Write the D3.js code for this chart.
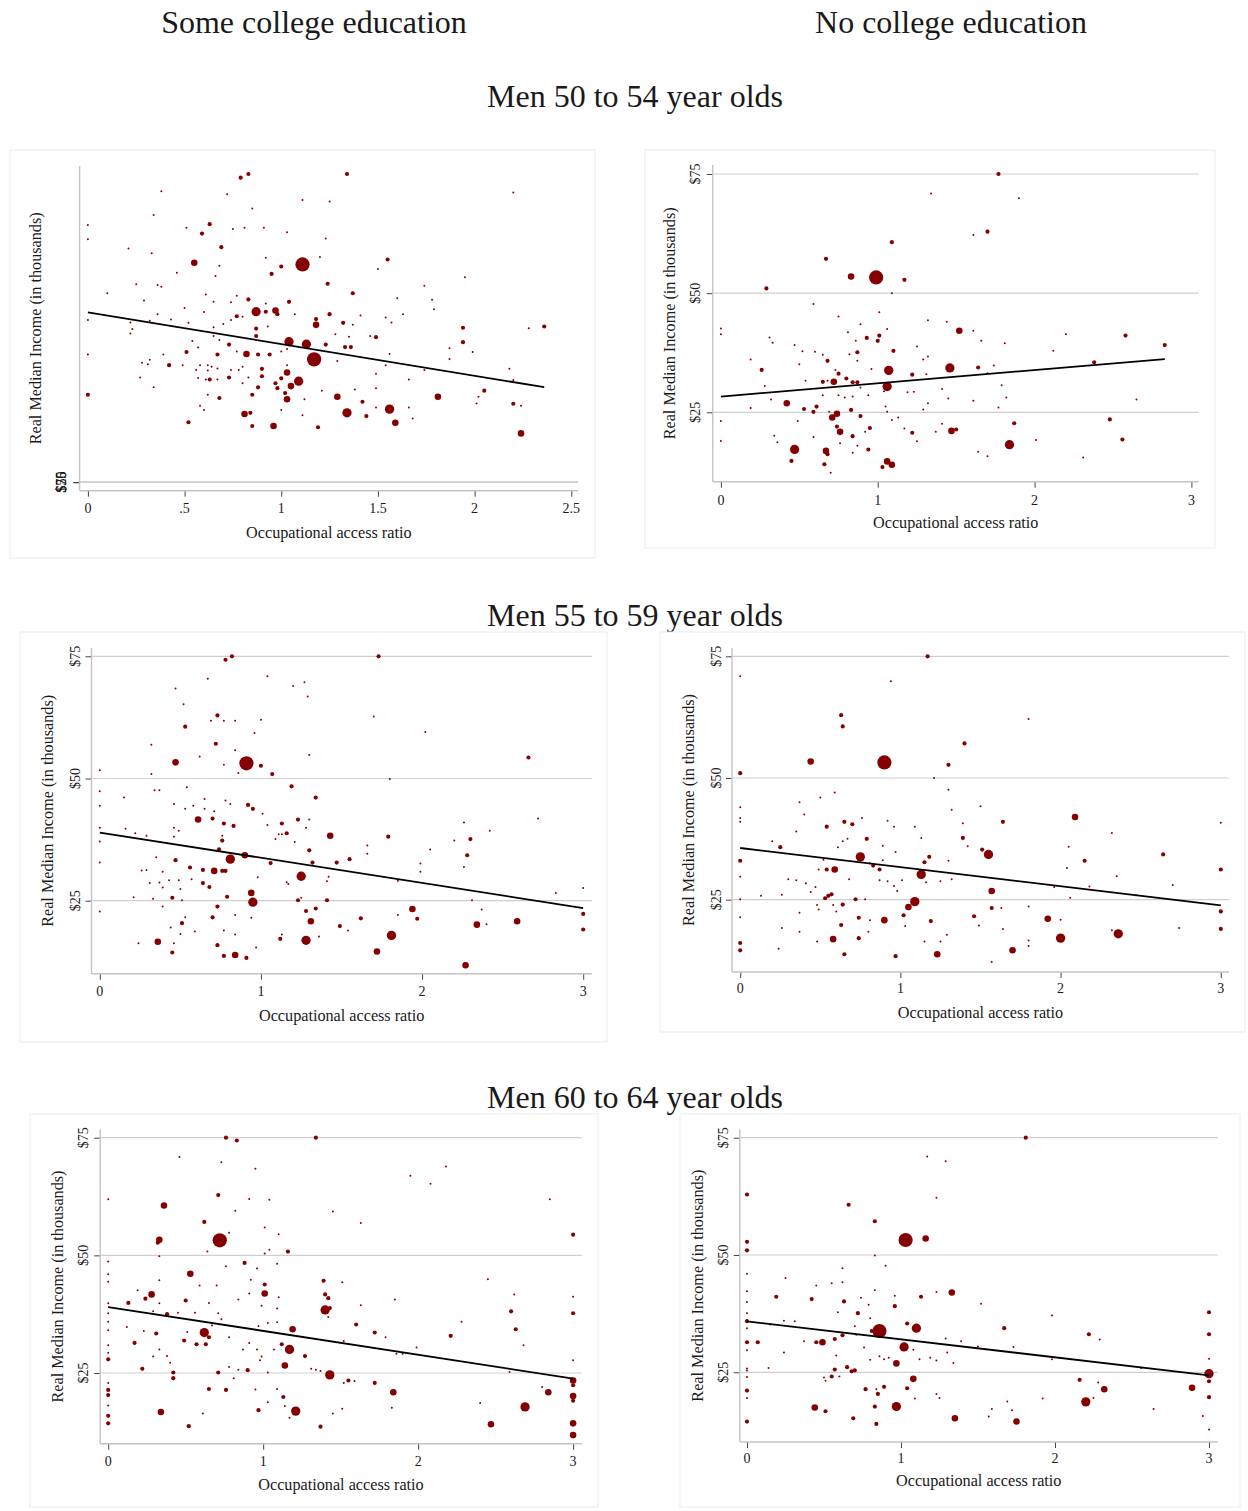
<!DOCTYPE html>
<html>
<head>
<meta charset="utf-8">
<script src="https://cdn.jsdelivr.net/npm/d3@7"></script>
<style>
  html, body { margin: 0; padding: 0; background: #ffffff; }
  svg { display: block; }
  text { font-family: "Liberation Serif", "Times New Roman", serif; fill: #1a1a1a; }
</style>
</head>
<body>
<svg id="chart" width="1248" height="1511"></svg>
<script>
// Column and row headings
const columnHeaders = ["Some college education", "No college education"];
const rowHeaders = ["Men 50 to 54 year olds", "Men 55 to 59 year olds", "Men 60 to 64 year olds"];

// Axis text
const xAxisTitle = "Occupational access ratio";
const yAxisTitle = "Real Median Income (in thousands)";
const yTickValues = [25, 50, 75];
const yTickLabels = ["$25", "$50", "$75"];
const xTicksHalf = [0, 0.5, 1, 1.5, 2, 2.5];
const xTicksHalfLabels = ["0", ".5", "1", "1.5", "2", "2.5"];
const xTicksWhole = [0, 1, 2, 3];
const xTicksWholeLabels = ["0", "1", "2", "3"];

// Occupations: [access ratio, median income ($000), weight]
const men50SomeCollege = [
[0.79,74.1,6],[0.83,75.0,6],[1.34,75.0,6],[0.38,70.8,1],[0.72,70.1,1],[1.11,68.7,1],[2.20,70.5,1],[0.85,66.6,1],[1.25,68.3,1],[0.34,65.0,1],
[0,62.6,1],[0,59.1,1],[0.51,61.9,1],[0.63,62.8,6],[0.75,61.6,1],[0.81,61.9,1],[0.91,61.9,1],[1.03,60.8,1],[0.59,60.5,6],[1.23,59.3,1],
[0.21,56.9,1],[0.69,57.2,6],[0.33,55.7,1],[0.55,53.4,15],[0.92,54.6,1],[1.00,52.5,6],[1.11,53.0,70],[1.20,54.8,1],[1.55,54.2,6],[1.50,51.9,1],
[0.95,50.7,6],[0.46,51.0,1],[0.66,50.2,1],[0.68,52.7,1],[0.25,48.2,1],[0.36,48.0,1],[0.38,47.6,1],[1.24,48.3,6],[1.74,47.8,1],[1.95,49.9,1],
[0.10,46.0,1],[0.61,45.7,1],[0.77,45.4,1],[0.83,44.5,6],[1.04,43.9,6],[1.37,46.0,6],[1.60,44.8,1],[1.78,44.4,1],[1.79,42.1,1],
[0.29,44.2,1],[0.65,43.9,1],[0.74,43.8,1],[0.50,42.4,1],[0.92,43.5,1],
[0.87,41.5,30],[0.92,41.5,6],[0.97,41.8,15],[0.98,40.9,6],[1.25,40.9,6],[0.77,40.4,6],[0.80,40.3,1],[1.07,40.9,1],[1.41,40.6,1],[1.54,40.1,1],[1.63,40.9,1],[0.36,40.9,1],[0.60,41.4,1],
[0,39.5,1],[0.22,38.9,1],[0.32,39.3,1],[0.43,39.6,1],[0.52,38.8,1],[0.70,38.5,1],[0.74,39.5,1],[0.93,37.9,1],
[0.87,37.4,6],[1.18,39.7,6],[1.18,38.3,15],[1.32,38.8,6],[1.37,38.3,1],[1.49,35.3,6],[1.94,37.6,6],[2.36,37.9,6],[2.28,37.5,1],
[0.87,35.6,6],[0.65,37.7,1],[0.65,35.6,1],[0.22,36.2,1],[0.23,37.3,1],[1.28,36.0,1],[1.35,35.4,1],[1.46,35.6,1],[1.57,38.9,1],
[1.04,34.2,30],[1.13,33.6,30],[1.03,32.4,1],[1.23,33.5,6],[1.33,32.9,6],[1.36,32.9,6],[1.94,34.1,6],[1.87,32.6,1],[1.99,31.7,1],
[0.73,33.5,6],[0.57,32.8,1],[0.54,34.4,1],[0.68,34.6,1],
[0.51,31.7,6],[0.39,31.1,1],[0,31.1,1],[0.67,31.1,6],[0.77,31.8,1],[0.82,31.2,15],[0.88,31.1,6],[0.94,31.1,6],[1.00,31.8,1],
[1.17,29.9,70],[1.29,29.5,1],[1.56,31.2,1],[1.54,28.5,1],
[0.28,29.1,1],[0.32,29.8,1],[0.31,28.7,1],[0.42,28.5,6],[0.49,28.5,1],[0.58,28.5,1],[0.62,28.5,1],[0.64,28.1,1],[0.67,27.7,1],[0.56,27.3,1],[0.62,27.2,1],[0.74,27.3,1],[0.78,27.3,1],[0.80,28.1,1],[0.90,27.6,6],[1.03,28.5,1],
[1.03,26.7,15],[0.90,25.8,6],[0.73,25.5,6],[0.63,25.0,6],[0.27,25.5,1],[0.57,25.4,1],[0.61,25.0,1],[0.67,25.0,1],[0.83,25.5,1],[1.00,25.3,6],[0.97,24.1,6],[1.09,24.6,30],[1.74,27.3,1],[1.87,30.0,1],[2.18,27.6,1],[2.20,24.9,1],[1.49,26.4,1],[1.66,25.0,1],
[0.98,22.9,6],[1.05,23.4,15],[0.88,23.1,6],[0.34,23.1,1],[0.80,24.1,1],[1.49,22.9,1],[1.38,22.6,1],[1.21,22.3,1],
[0,21.3,6],[0.68,20.5,6],[0.85,21.3,6],[1.02,21.7,6],[1.03,20.2,15],[0.62,21.3,1],[1.29,20.8,15],[1.42,19.6,6],[1.81,20.8,15],[2.05,22.3,6],[2.02,20.8,1],[2.01,19.2,1],[1.12,20.2,1],
[2.20,19.1,6],[2.24,18.6,1],[0.58,18.6,1],[0.60,17.6,1],[1.00,17.6,1],[1.49,18.2,1],[1.66,18.2,1],
[0.81,16.6,15],[0.84,16.9,6],[1.11,16.3,1],[1.34,16.9,30],[1.44,16.1,6],[1.56,17.8,30],[1.68,15.5,1],
[0.52,14.6,6],[0.85,13.7,6],[0.96,13.7,15],[1.19,13.4,6],[1.59,14.5,15],[2.24,11.9,15]
];

const men50NoCollege = [
[1.77,75.0,6],[1.34,70.9,1],[1.90,69.9,1],[1.70,62.9,6],[1.61,62.2,1],[1.09,60.7,6],[0.67,57.2,6],[0.83,53.5,15],[0.99,53.3,70],[1.17,52.8,6],[0.29,51.0,6],[1.09,50.0,1],
[0.59,47.7,1],[1.01,46.0,1],[0.75,45.1,1],[0.89,43.5,1],[1.32,44.3,1],[1.44,44.0,1],[0,42.6,1],[0,41.4,1],[0.81,41.8,1],[1.06,42.5,1],[1.52,42.1,15],[1.61,42.1,1],[2.20,41.4,1],[2.58,41.1,6],[2.83,39.1,6],
[0.93,40.6,6],[1.01,41.1,6],[1.00,40.0,6],[0.31,40.7,1],[0.33,39.6,1],[0.86,40.0,1],[1.66,40.0,1],[1.81,39.5,1],[0.47,39.1,1],[0.52,37.8,1],[0.60,37.7,1],[0.65,37.1,1],[0.87,37.6,6],[0.82,37.2,1],[1.10,37.9,6],[1.25,38.8,1],[2.12,37.9,1],
[0.68,35.8,6],[0.87,35.8,1],[0.19,36.1,1],[0.50,35.1,1],[1.29,36.1,1],[1.32,36.7,1],[2.38,35.5,6],[1.74,34.8,1],
[0.26,33.9,6],[1.07,33.8,30],[1.46,34.3,30],[1.64,34.4,6],[0.96,34.1,1],[0.73,33.9,1],[0.54,31.6,1],[1.22,32.9,6],[1.31,33.0,1],[1.70,33.2,1],[0.75,33.1,6],[0.80,32.1,6],[0.65,31.4,6],[0.72,31.4,15],[0.84,31.3,6],[0.87,31.3,6],[0.68,31.6,1],[0.89,30.2,1],[1.06,30.4,30],[1.04,29.4,1],[0.94,28.6,1],[1.19,29.2,1],[1.23,29.3,1],[1.41,29.9,1],[1.79,30.7,1],[0.28,30.5,1],
[0.65,28.6,1],[0.75,28.6,1],[0.79,28.1,1],[0.84,28.3,1],[0.32,27.7,1],[1.45,27.9,1],[1.61,27.4,1],[1.82,28.1,1],[2.65,27.7,1],
[0.42,26.9,15],[0.61,26.2,6],[0.53,25.7,6],[0.59,25.1,6],[0.19,25.9,1],[1.05,26.2,1],[1.32,26.9,1],[1.29,25.6,1],[1.77,26.0,1],[1.06,25.1,1],
[0.74,24.7,15],[0.71,23.9,15],[0.83,25.5,6],[0.89,24.2,6],[0.69,25.1,1],[0.49,23.2,1],[1.09,23.4,1],[1.13,23.9,1],[1.41,22.6,1],[2.48,23.5,6],[1.87,22.7,6],[0,23.2,1],
[0.74,22.0,6],[0.76,20.9,15],[0.95,21.7,6],[0.92,20.9,1],[1.22,20.7,6],[1.17,21.6,1],[1.37,20.9,1],[1.47,21.1,15],[1.50,21.4,6],
[0.34,20.1,1],[0.36,18.7,1],[0.59,19.8,1],[0.84,20.0,6],[0,19.0,1],[2.01,19.2,1],[2.56,19.3,6],
[0.47,17.2,30],[0.67,16.9,15],[0.68,16.2,6],[0.76,18.5,1],[0.87,18.0,1],[0.94,17.2,6],[1.25,18.9,1],[1.84,18.2,30],[1.64,16.7,1],[1.70,15.8,1],[2.31,15.5,1],
[0.45,14.8,6],[0.66,14.1,6],[1.06,14.7,15],[1.09,14.0,15],[1.03,13.5,6],[0.70,12.3,1],[0.84,16.5,1]
];

const men55SomeCollege = [
[0.78,74.3,6],[0.82,75.0,6],[1.73,75.0,6],[0.67,70.4,1],[1.04,70.9,1],[1.20,68.9,1],[1.27,69.7,1],[1.29,66.8,1],[0.47,68.4,1],[0.52,65.2,1],
[0.73,62.9,6],[0.69,61.8,1],[0.77,61.8,1],[0.84,61.8,1],[1.00,62.0,1],[1.70,62.7,1],[0.53,60.6,6],[0.96,59.3,1],[2.02,59.5,1],
[0.72,57.1,6],[0.32,56.9,1],[0.84,55.8,1],[0.62,54.5,1],[1.30,54.8,1],[2.66,54.3,6],[0.47,53.3,15],[0.91,53.1,70],[1.00,52.6,6],[0.77,52.8,1],[0.86,51.1,1],[1.07,50.9,6],[0.32,50.9,1],
[0,51.7,1],[0,47.4,1],[1.19,48.4,6],[0.54,48.2,1],[0.34,47.6,1],[0.37,47.6,1],[1.80,49.9,1],[1.34,46.1,6],[0.15,46.1,1],[0.65,45.8,1],
[0,44.4,1],[0.46,44.8,1],[0.58,44.4,1],[0.53,43.8,1],[0.78,45.5,1],[0.81,44.8,1],[0.92,44.6,6],[0.95,43.8,6],[0.61,41.6,15],[0.70,41.8,6],[0.65,43.8,1],[0.71,43.3,1],[1.01,42.8,1],[1.23,41.6,6],[1.13,40.8,6],[1.30,41.6,1],[0.77,40.8,6],[0.83,40.3,6],[1.04,40.5,1],[1.11,38.6,1],[1.16,38.8,6],[1.43,38.3,15],[1.79,38.1,6],[2.72,41.8,1],[2.42,39.3,1],[2.26,41.0,1],[2.30,37.6,6],[2.20,37.3,1],
[0,39.9,1],[0,37.1,1],[0.16,39.7,1],[0.22,38.8,1],[0.29,38.3,1],[0.46,39.9,1],[0.46,38.1,1],[0.49,39.3,1],[0.76,37.3,6],[0.76,38.3,1],[1.09,37.6,1],[1.13,38.6,1],[1.21,37.0,1],[1.28,39.9,1],
[0.74,35.5,6],[1.30,35.3,6],[0.90,34.3,15],[0.81,33.5,30],[0.93,34.1,1],[1.66,36.3,1],[1.66,34.6,1],[2.05,35.5,1],[2.28,34.3,6],
[0,32.8,1],[0.35,33.9,1],[0.47,33.3,6],[0.56,31.8,6],[0.64,31.3,6],[0.71,31.1,15],[0.76,31.1,6],[0.78,31.1,6],[0.26,31.2,1],[0.29,31.3,1],[0.39,30.9,1],[1.06,32.7,6],[1.32,32.8,6],[1.47,32.8,6],[1.55,33.5,6],[1.99,32.6,1],[1.99,30.9,1],[2.26,31.9,1],
[1.25,30.0,30],[0.98,29.8,1],[1.16,28.8,1],[1.17,28.4,1],[1.42,29.9,1],[1.41,29.0,1],[1.85,29.1,1],
[0.31,28.6,1],[0.37,28.7,1],[0.39,27.7,1],[0.43,29.2,1],[0.49,29.2,1],[0.57,29.4,1],[0.64,28.6,6],[0.68,27.8,6],[0.50,27.4,1],[0.94,26.6,15],[0.79,25.8,6],[0.45,25.6,6],[0.21,25.7,1],[0.33,25.4,1],[0.51,25.1,1],[1.23,25.1,6],[1.25,25.6,1],[1.41,25.1,6],[2.31,25.1,1],[2.83,26.6,1],[3.00,27.6,1],
[0.95,24.7,30],[0.73,23.8,6],[0.39,23.8,1],[1.28,22.9,6],[1.34,23.4,6],[0,22.8,1],[1.94,23.3,15],[2.37,23.2,1],[1.85,22.1,1],
[0.70,21.6,6],[0.84,22.1,1],[0.94,21.5,1],[1.31,20.8,15],[1.62,21.4,6],[1.97,21.3,6],[3.00,22.3,6],[3.00,19.1,6],[0.51,20.4,6],[0.53,21.6,1],[0.44,19.5,1],[0.50,18.2,1],[0.59,18.7,1],[0.77,18.9,1],[0.84,18.1,1],[1.49,19.8,6],[1.54,18.9,1],[2.34,20.1,15],[2.40,20.2,1],[2.59,20.8,15],
[0.36,16.6,15],[0.24,16.3,1],[0.46,16.3,1],[1.12,17.2,6],[1.13,18.1,1],[1.28,16.9,30],[1.36,17.7,1],[1.81,17.9,30],[0.73,15.9,6],[0.45,14.4,6],[0.77,13.7,6],[0.84,13.9,15],[0.91,13.3,6],[0.97,15.4,1],[1.72,14.6,15],[2.27,11.8,15]
];

const men55NoCollege = [
[1.17,75.0,6],[0,70.9,1],[0.94,69.9,1],[0.63,62.9,6],[0.64,60.6,6],[1.80,62.1,1],[1.40,57.1,6],[0.44,53.4,15],[0.90,53.2,70],[1.30,52.7,6],[0,51.0,6],[1.21,50.0,1],
[1.30,47.6,1],[0.59,47.0,1],[0.50,46.0,1],[0.37,45.0,1],[1.50,44.2,1],[0,44.0,1],[0,41.8,1],[0.40,42.5,1],[1.32,43.5,1],[2.09,42.0,15],[0,41.0,1],[0.76,41.8,1],[0.92,41.2,1],[0.65,41.0,6],[0.70,40.5,6],[0.54,40.0,6],[0.96,40.0,1],[1.09,40.0,1],[1.39,40.7,1],[1.64,41.0,6],[3.00,40.8,1],[0.35,39.0,1],[2.32,38.7,1],
[0.79,37.5,6],[1.39,37.7,6],[1.13,37.7,1],[0.67,37.5,1],[0.64,37.0,1],[0.20,37.0,1],[0.25,35.8,6],[0.89,36.1,1],[0.61,35.8,1],[1.42,36.0,1],[1.51,35.3,6],[1.55,34.3,30],[0.75,33.8,30],[0.97,34.8,1],[1.18,33.8,6],[1.15,32.7,6],[1.30,33.0,1],[2.15,33.0,6],[2.64,34.3,6],[2.05,35.9,1],
[0,33.0,6],[0.52,33.2,1],[0.81,32.5,1],[0.83,32.0,6],[0.87,31.2,6],[0.54,31.2,6],[0.59,31.2,15],[0.49,31.2,1],[0.89,33.1,1],[1.13,30.2,30],[2.04,31.5,1],[3.00,31.2,6],[2.35,29.8,1],
[0,29.7,1],[0.30,29.2,1],[0.35,29.0,1],[0.41,28.4,1],[0.47,27.6,1],[0.44,26.6,1],[0.68,29.2,1],[0.87,29.0,1],[0.92,28.8,1],[0.96,27.8,1],[0.98,26.8,1],[1.01,29.0,1],[1.16,28.6,1],[1.25,28.8,1],[1.32,29.2,1],
[1.57,26.8,15],[1.96,27.6,1],[2.18,27.7,1],[2.70,28.0,1],[0.13,25.8,1],[0.26,26.0,1],[0.53,25.3,6],[0.55,25.8,6],[0.57,26.1,6],[0.72,25.1,6],[0.78,25.1,1],[0,25.1,1],[2.06,25.4,1],[2.47,25.9,1],
[1.09,24.6,30],[1.05,23.5,15],[0.64,24.0,6],[0.48,23.9,1],[0.49,23.0,1],[0.58,23.9,1],[0.60,22.6,1],[1.57,23.3,6],[1.63,23.3,1],[1.80,23.6,1],
[0,21.4,1],[0.37,22.3,1],[0.74,21.3,6],[0.90,20.8,15],[1.02,21.8,6],[1.19,20.6,6],[1.46,21.6,6],[1.92,21.1,15],[2.00,20.9,1],[3.00,22.6,6],[3.00,19.0,6],[0.81,20.8,1],[1.03,19.6,1],[1.49,19.7,1],
[0.63,19.8,6],[0.26,19.2,1],[0.37,18.4,1],[0.74,17.1,6],[0.58,16.9,15],[0.80,18.4,1],[1.15,16.4,1],[1.25,16.4,1],[1.29,17.8,1],[1.64,19.0,1],[2.00,17.1,30],[2.36,18.0,30],[2.32,18.7,1],[2.74,19.2,1],
[0,16.1,6],[0,14.6,6],[0.24,14.9,1],[0.48,16.4,1],[0.65,13.8,6],[0.97,13.4,6],[1.23,13.8,15],[1.70,14.6,15],[1.57,12.2,1],[1.80,16.6,1],[1.80,15.5,1]
];

const men60SomeCollege = [
[0.76,75.0,6],[0.83,74.4,6],[1.34,75.0,6],[0.46,70.9,1],[0.73,69.8,1],[0.95,68.4,1],[2.18,68.9,1],[1.95,66.9,1],[2.08,65.2,1],
[0.71,62.8,6],[0,61.9,1],[0.91,62.0,1],[1.04,61.8,1],[2.85,61.9,1],[0.36,60.6,15],[0.82,59.5,1],[1.45,59.3,1],[0.62,57.1,6],[1.63,56.9,1],
[0.33,53.3,15],[0.32,52.7,6],[0.72,53.2,70],[3.00,54.4,6],[0.78,54.8,1],[1.10,54.5,1],[1.01,55.9,1],[1.16,50.8,6],[0.64,50.8,1],[1.04,51.2,1],[1.01,50.4,1],[0.33,49.8,1],
[0,48.7,1],[0,46.0,1],[0,44.4,1],[0.88,48.4,6],[0.96,47.2,1],[0.76,47.7,1],[1.09,48.2,1],[0.53,46.1,15],[0.33,44.7,1],[0.59,43.6,1],[0.70,43.6,1],[1.01,43.8,6],[1.01,41.9,15],[1.39,44.6,6],[1.51,44.3,1],[0.92,44.8,1],[2.45,44.9,1],[0.19,42.6,1],
[0.28,41.7,15],[0.24,40.8,6],[0.13,39.9,6],[0.50,40.4,6],[0.91,41.9,1],[0.84,40.6,1],[1.10,41.1,1],[1.40,41.7,6],[1.42,40.9,6],[2.62,41.7,1],[3.00,41.2,1],[1.85,40.6,1],[0.65,39.9,1],[0.99,39.3,1],[1.63,39.4,1],[0,39.8,1],
[1.40,38.4,30],[1.43,38.8,6],[2.60,38.1,6],[3.00,37.7,6],[0.38,37.5,6],[0.45,37.8,1],[0.29,38.1,1],[0.33,39.8,1],[0.71,37.7,1],[0.56,37.8,1],[1.09,38.7,1],[1.42,36.9,1],[0.73,36.4,1],[0,37.7,1],[0,35.9,1],[0,34.1,1],
[0.62,33.6,30],[0.65,32.6,6],[1.19,34.3,15],[1.60,35.3,6],[1.72,33.6,6],[2.63,34.3,6],[2.21,32.9,6],[2.28,35.9,1],[0.31,33.4,6],[0.12,34.8,1],[0.23,33.9,1],[0.51,33.7,1],[0.97,35.0,1],[1.03,35.6,1],[1.09,35.8,1],[0.67,35.1,1],[0.78,32.6,1],
[0.49,31.9,6],[0.17,31.4,6],[0.57,31.1,6],[0.63,31.1,6],[1.12,31.1,6],[1.17,30.0,30],[1.27,28.6,6],[0.91,31.4,1],[0.87,30.0,1],[0.96,30.0,1],[0.99,28.5,1],[0.98,27.7,1],[1.07,30.0,1],[1.52,31.8,1],[1.79,32.6,1],[1.99,30.4,1],[1.86,29.1,1],[1.90,29.1,1],[2.68,30.9,1],[0.33,30.0,1],[0.29,28.5,1],[0.38,28.6,1],[0.40,27.2,1],[0,30.9,1],[0,29.3,1],[0,27.9,6],[3.00,27.7,1],
[0.22,25.9,6],[0.42,25.1,6],[0.42,23.9,6],[0.71,25.1,6],[0.90,25.6,6],[1.14,26.6,15],[1.43,24.6,30],[1.55,23.4,6],[1.72,22.9,6],[1.31,25.9,1],[1.34,25.7,1],[1.37,25.4,1],[0.78,26.3,1],[0.84,25.7,1],[1.03,25.1,1],[0.81,23.9,1],[1.52,22.9,1],[1.59,23.3,1],[2.59,25.2,1],
[0,21.4,6],[0,20.3,6],[0.65,21.6,6],[0.76,21.4,6],[1.84,20.9,15],[2.84,20.9,15],[3.00,23.4,15],[3.00,22.4,6],[3.00,20.1,15],[3.00,19.1,6],[2.80,22.0,1],[0.95,21.5,1],[1.09,21.6,1],[0,22.9,1],[0,18.1,1],
[1.13,19.9,6],[1.21,16.9,30],[2.69,17.8,30],[1.83,17.6,1],[1.03,18.8,1],[1.14,18.0,1],[1.51,17.4,1],[1.45,16.4,1],[2.40,18.6,1],
[0.34,16.7,15],[0.97,17.1,6],[0,15.9,6],[0,14.3,6],[0.61,16.4,1],[1.17,15.5,1],[0.52,13.7,6],[1.37,13.6,6],[2.47,14.1,15],[3.00,14.3,15],[3.00,11.8,15]
];

const men60NoCollege = [
[1.81,75.0,6],[1.17,71.0,1],[1.29,70.0,1],[1.23,62.2,1],[0,62.9,6],[0.66,60.7,6],[0.83,57.2,6],[0,52.8,6],[0,51.0,6],[1.03,53.2,70],[1.16,53.5,15],[0.83,49.9,1],[0.90,47.7,1],
[0,46.0,1],[0.62,47.2,1],[0.25,45.1,1],[0.55,44.0,1],[0.62,44.2,1],[0.45,43.5,1],[0,42.3,1],[0.83,42.5,1],[1.23,42.1,1],[1.33,42.0,15],[0.19,41.1,6],[0.42,40.6,6],[0.63,40.1,6],[0.96,41.3,1],[1.13,41.1,6],[0.74,40.9,1],[0.79,39.4,1],[0.96,39.1,6],[1.52,39.6,1],[0,40.0,1],
[0.72,37.6,6],[0.59,37.8,1],[0.80,36.5,1],[1.98,37.1,1],[0,37.6,1],[0,35.9,6],[0.15,35.2,1],[0.24,36.0,1],[0.31,35.9,1],[1.04,35.4,6],[1.10,34.4,30],[0.86,33.8,70],[0.81,33.8,6],[0.62,32.9,6],[0.57,32.1,6],[0.70,34.8,1],[0.71,33.0,1],[1.67,34.4,6],[2.22,33.1,6],[2.29,32.0,1],[3.00,37.8,6],[3.00,33.1,6],
[0,31.4,6],[0.07,31.4,6],[0.45,31.4,6],[0.49,31.4,15],[0.37,31.6,1],[0.76,30.3,1],[1.02,30.4,30],[1.08,29.8,1],[1.29,32.2,1],[1.39,31.6,1],[1.50,30.5,1],[1.73,30.4,1],[0,29.7,1],[0,34.4,1],[0.24,29.2,1],[0.58,28.6,1],[0.86,28.4,1],[0.89,27.8,1],[0.92,28.1,1],[0.80,27.7,1],[1.12,27.8,1],[1.19,28.1,1],[1.23,27.5,1],[1.30,29.2,1],[1.34,27.0,1],[1.98,27.8,1],[3.00,27.9,1],
[0.97,26.9,15],[0.14,25.9,1],[0.57,25.6,6],[0.65,26.1,6],[0.68,25.2,6],[0.70,25.4,6],[0.55,24.1,6],[0.50,23.9,1],[0.51,23.2,1],[0.60,24.1,1],[0,25.4,1],[0,24.0,1],[2.56,25.9,1],[3.00,24.7,30],
[1.08,23.6,15],[1.04,21.6,6],[0.89,21.9,6],[0.77,21.4,6],[2.16,23.4,6],[2.32,21.4,15],[2.89,21.7,15],[3.00,23.1,6],[2.28,22.8,1],[0,21.1,6],[0,19.5,1],[1.92,19.4,1],[1.23,20.4,1],[0.85,20.4,6],[0.84,21.4,1],
[0.97,17.7,30],[0.83,17.7,6],[2.20,18.7,30],[3.00,19.7,6],[1.25,19.5,1],[1.09,19.4,1],[1.69,18.8,1],[0.44,17.5,15],[0.51,16.7,6],[2.25,19.5,1],[2.64,17.2,1],[1.59,17.2,1],[1.72,16.9,1],[1.57,15.6,1],
[0.69,15.2,6],[0.84,14.0,6],[1.35,15.2,15],[1.75,14.5,15],[0,14.5,6],[2.96,15.7,1],[3.00,12.8,1],[0,25.8,1]
];

// Weighted least-squares fits shown on each panel
const fitIntercepts = [41.35, 28.29, 38.92, 35.62, 39.02, 35.87];
const fitSlopes = [-7.72, 2.786, -5.14, -3.93, -5.07, -3.84];

const panelData = [men50SomeCollege, men50NoCollege, men55SomeCollege, men55NoCollege, men60SomeCollege, men60NoCollege];

// Panel geometry (pixels). The first panel plots income in dollars, so its
// $25/$50/$75 labels all sit at the bottom of the axis.
const layouts = [
  {frame:[10,150,595,558], axisX:79.6, top:166, axisY:490.7, right:578, px0:87.9, px1:571.3, xMax:2.5,
   yLo:0, pyLo:482.3, yHi:75, pyHi:174, tickUnit:0.001, ticks:"half", yLabX:61.5, xLabY:508, xTitleY:533.3, yTitleX:35.6},
  {frame:[645,150,1215,548], axisX:712.8, top:165, axisY:481.7, right:1198.7, px0:720.9, px1:1191.4, xMax:3,
   yLo:25, pyLo:412.3, yHi:75, pyHi:174, tickUnit:1, ticks:"whole", yLabX:695.2, xLabY:500, xTitleY:522.7, yTitleX:670},
  {frame:[20,632,607,1042], axisX:91.5, top:648, axisY:973.7, right:591.9, px0:99.8, px1:583.2, xMax:3,
   yLo:25, pyLo:900.7, yHi:75, pyHi:656.3, tickUnit:1, ticks:"whole", yLabX:75.7, xLabY:991.3, xTitleY:1016.3, yTitleX:48.2},
  {frame:[660,632,1245,1032], axisX:732, top:648, axisY:972, right:1229, px0:740.2, px1:1220.8, xMax:3,
   yLo:25, pyLo:899.7, yHi:75, pyHi:656.3, tickUnit:1, ticks:"whole", yLabX:716, xLabY:988.7, xTitleY:1013, yTitleX:689},
  {frame:[30,1114,598,1507], axisX:100.2, top:1129.3, axisY:1443.7, right:581.8, px0:108.2, px1:573.1, xMax:3,
   yLo:25, pyLo:1373, yHi:75, pyHi:1137.7, tickUnit:1, ticks:"whole", yLabX:83.8, xLabY:1461, xTitleY:1484.7, yTitleX:58.4},
  {frame:[680,1114,1240,1507], axisX:739.8, top:1129.3, axisY:1442, right:1217.7, px0:747, px1:1209, xMax:3,
   yLo:25, pyLo:1372.3, yHi:75, pyHi:1137.7, tickUnit:1, ticks:"whole", yLabX:723.2, xLabY:1458.7, xTitleY:1481.3, yTitleX:698}
];

const MARKER = "#850000";
const svg = d3.select("#chart");

// Headings
svg.selectAll("text.colhead").data(columnHeaders).join("text")
  .attr("class", "colhead")
  .attr("x", (d, i) => [314, 951][i]).attr("y", 22)
  .attr("text-anchor", "middle").attr("dominant-baseline", "central")
  .style("font-size", "32px").text(d => d);

svg.selectAll("text.rowhead").data(rowHeaders).join("text")
  .attr("class", "rowhead")
  .attr("x", 635).attr("y", (d, i) => [96, 615, 1097][i])
  .attr("text-anchor", "middle").attr("dominant-baseline", "central")
  .style("font-size", "32px").text(d => d);

const rScale = d3.scaleSqrt().domain([0, 70]).range([0, 7.1]);

layouts.forEach((L, i) => {
  const data = panelData[i];
  const g = svg.append("g");

  const x = d3.scaleLinear().domain([0, L.xMax]).range([L.px0, L.px1]);
  const y = d3.scaleLinear().domain([L.yLo, L.yHi]).range([L.pyLo, L.pyHi]);

  // Panel frame
  g.append("rect")
    .attr("x", L.frame[0]).attr("y", L.frame[1])
    .attr("width", L.frame[2] - L.frame[0]).attr("height", L.frame[3] - L.frame[1])
    .attr("fill", "#ffffff").attr("stroke", "#e6edf3").attr("stroke-width", 1);

  const tickVals = yTickValues.map(v => v * L.tickUnit);

  // Horizontal grid
  g.selectAll("line.grid").data(tickVals).join("line")
    .attr("class", "grid")
    .attr("x1", L.axisX).attr("x2", L.right)
    .attr("y1", d => y(d)).attr("y2", d => y(d))
    .attr("stroke", "#cfcfcf").attr("stroke-width", 1.2);

  // Y axis
  const yAxis = d3.axisLeft(y).tickValues(tickVals).tickSize(6).tickFormat("");
  const ya = g.append("g").attr("transform", `translate(${L.axisX},0)`).call(yAxis);
  ya.select(".domain").remove();
  ya.selectAll(".tick line").attr("stroke", "#444").attr("stroke-width", 1);
  g.append("line").attr("x1", L.axisX).attr("x2", L.axisX).attr("y1", L.top).attr("y2", L.axisY)
    .attr("stroke", "#c4c4c4").attr("stroke-width", 1.4);

  g.selectAll("text.ylab").data(tickVals).join("text")
    .attr("class", "ylab")
    .attr("transform", d => `translate(${L.yLabX},${y(d)}) rotate(-90)`)
    .attr("text-anchor", "middle").attr("dominant-baseline", "central")
    .style("font-size", "14px")
    .text((d, k) => yTickLabels[k]);

  // X axis
  const xt = L.ticks === "half" ? xTicksHalf : xTicksWhole;
  const xl = L.ticks === "half" ? xTicksHalfLabels : xTicksWholeLabels;
  const xAxis = d3.axisBottom(x).tickValues(xt).tickSize(6).tickFormat("");
  const xa = g.append("g").attr("transform", `translate(0,${L.axisY})`).call(xAxis);
  xa.select(".domain").remove();
  xa.selectAll(".tick line").attr("stroke", "#444").attr("stroke-width", 1);
  g.append("line").attr("x1", L.axisX).attr("x2", L.right).attr("y1", L.axisY).attr("y2", L.axisY)
    .attr("stroke", "#c4c4c4").attr("stroke-width", 1.4);

  g.selectAll("text.xlab").data(xt).join("text")
    .attr("class", "xlab")
    .attr("x", d => x(d)).attr("y", L.xLabY)
    .attr("text-anchor", "middle").attr("dominant-baseline", "central")
    .style("font-size", "14px").text((d, k) => xl[k]);

  // Axis titles
  g.append("text")
    .attr("x", (L.axisX + L.right) / 2).attr("y", L.xTitleY)
    .attr("text-anchor", "middle").attr("dominant-baseline", "central")
    .style("font-size", "16.2px").text(xAxisTitle);
  g.append("text")
    .attr("transform", `translate(${L.yTitleX},${(L.top + L.axisY) / 2}) rotate(-90)`)
    .attr("text-anchor", "middle").attr("dominant-baseline", "central")
    .style("font-size", "16.2px").text(yAxisTitle);

  // Weighted markers
  g.append("g").selectAll("circle").data(data).join("circle")
    .attr("cx", d => x(d[0])).attr("cy", d => y(d[1]))
    .attr("r", d => Math.max(1, rScale(d[2])))
    .attr("fill", MARKER);

  // Fitted line
  const xMaxData = d3.max(data, d => d[0]);
  const fit = [0, xMaxData].map(v => [v, fitIntercepts[i] + fitSlopes[i] * v]);
  g.append("path")
    .attr("d", d3.line().x(d => x(d[0])).y(d => y(d[1]))(fit))
    .attr("fill", "none").attr("stroke", "#000").attr("stroke-width", 1.8);
});
</script>
</body>
</html>
